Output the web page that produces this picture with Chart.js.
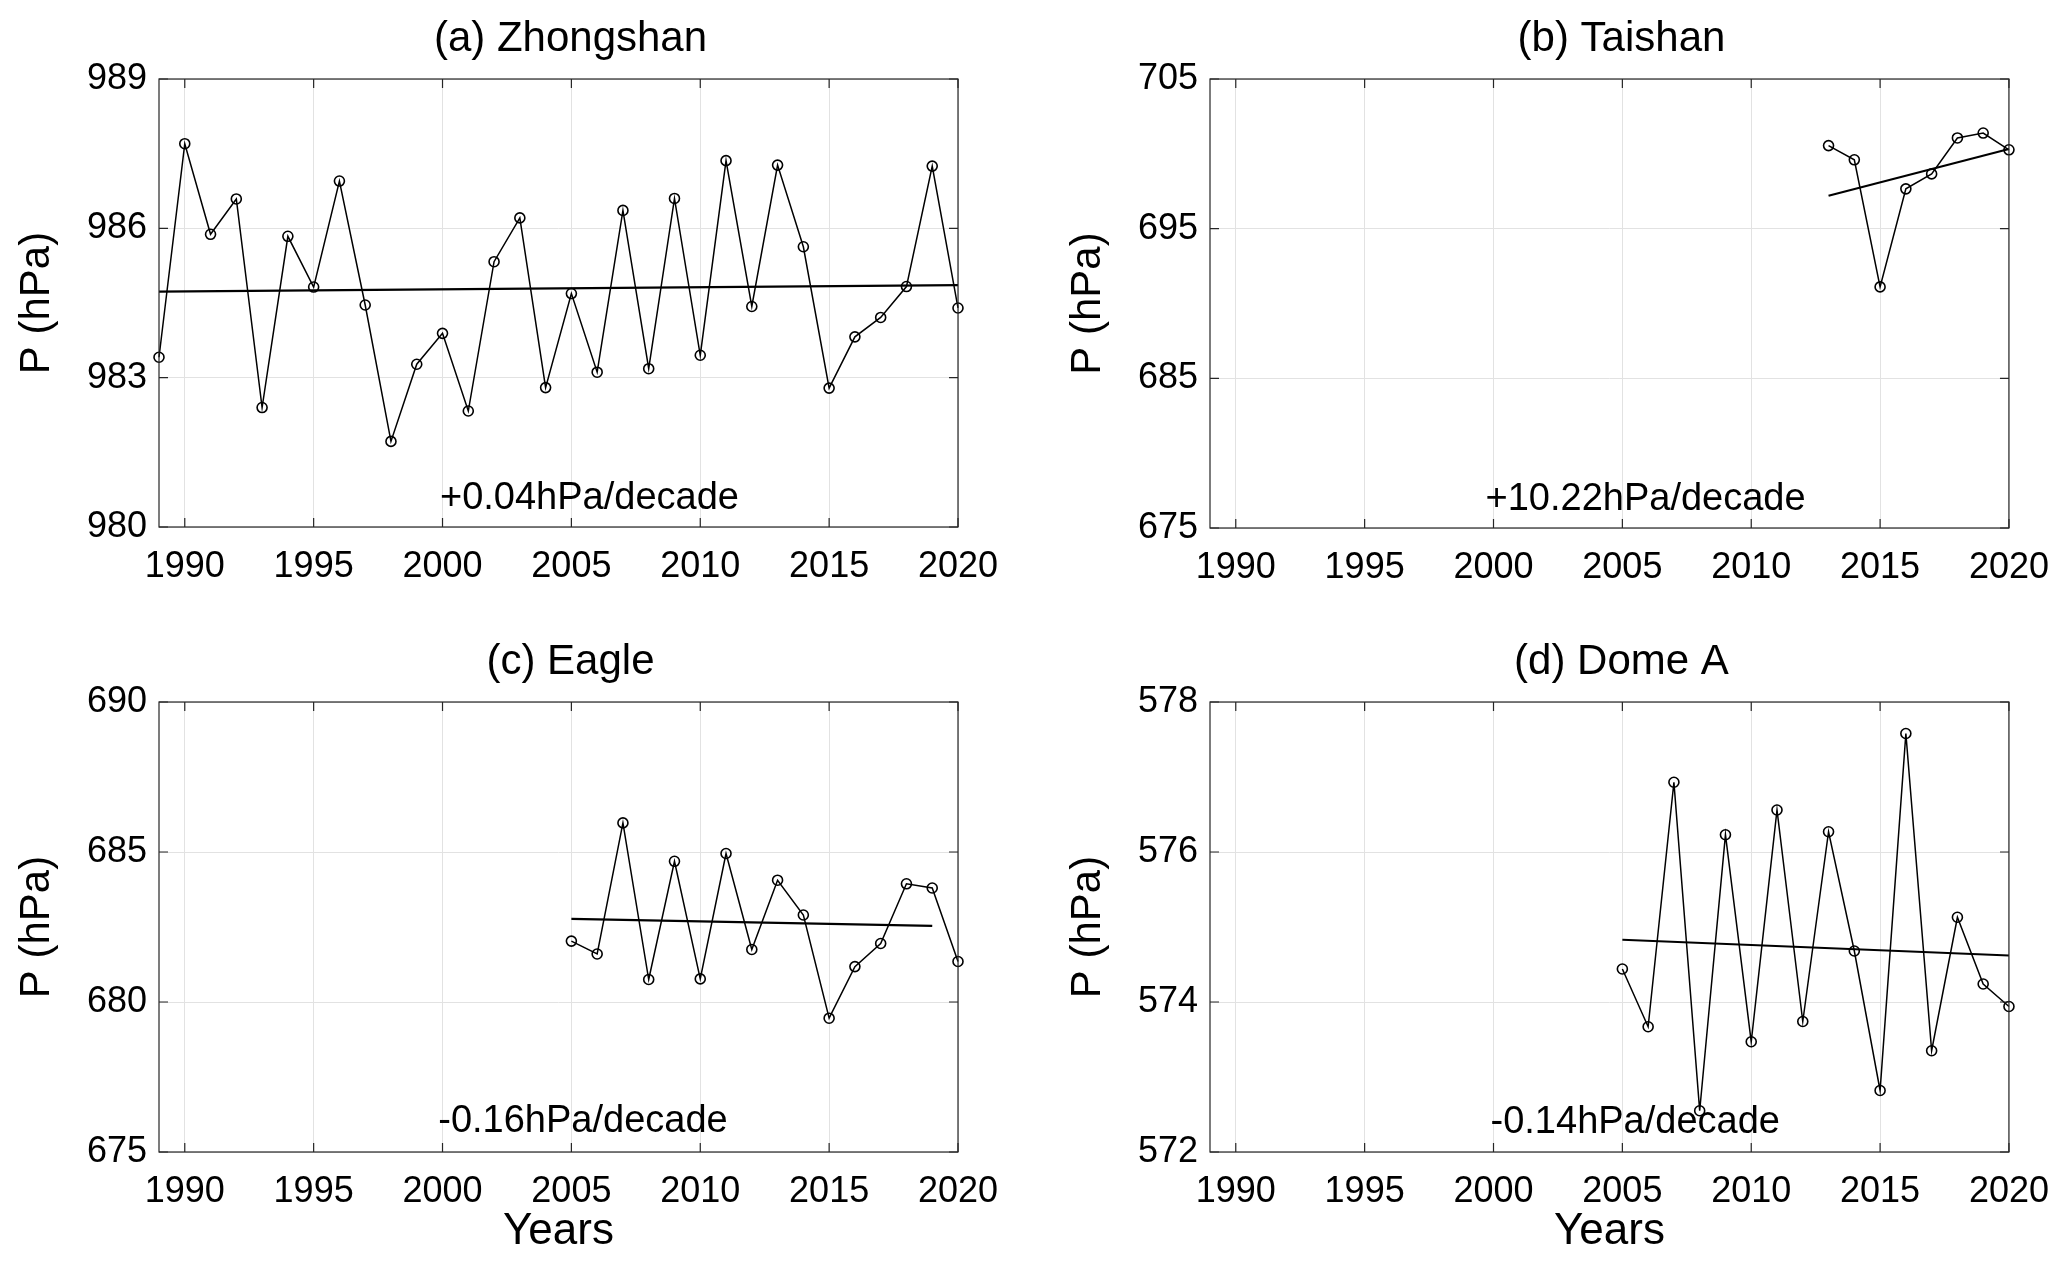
<!DOCTYPE html>
<html>
<head>
<meta charset="utf-8">
<script src="https://cdn.jsdelivr.net/npm/chart.js@4.4.0/dist/chart.umd.min.js"></script>
<style>
  body { margin: 0; background: #fff; width: 2067px; height: 1263px; position: relative; overflow: hidden; }
  canvas { position: absolute; }
</style>
</head>
<body>
<canvas id="cA" width="1033" height="620" style="left:0;top:0"></canvas>
<canvas id="cB" width="1034" height="620" style="left:1033px;top:0"></canvas>
<canvas id="cC" width="1033" height="643" style="left:0;top:620px"></canvas>
<canvas id="cD" width="1034" height="643" style="left:1033px;top:620px"></canvas>
<script>
// annual mean surface pressure (hPa)
const yearsA = [1989, 1990, 1991, 1992, 1993, 1994, 1995, 1996, 1997, 1998, 1999, 2000, 2001, 2002, 2003, 2004,
                2005, 2006, 2007, 2008, 2009, 2010, 2011, 2012, 2013, 2014, 2015, 2016, 2017, 2018, 2019, 2020];
const presA = [983.41, 987.70, 985.88, 986.59, 982.40, 985.84, 984.82, 986.95, 984.46, 981.72, 983.27, 983.89, 982.33, 985.33, 986.21, 982.80,
               984.69, 983.11, 986.36, 983.18, 986.60, 983.45, 987.36, 984.43, 987.27, 985.63, 982.79, 983.82, 984.21, 984.83, 987.25, 984.40];
const yearsB = [2013, 2014, 2015, 2016, 2017, 2018, 2019, 2020];
const presB = [700.55, 699.60, 691.11, 697.66, 698.66, 701.06, 701.39, 700.27];
const yearsC = [2005, 2006, 2007, 2008, 2009, 2010, 2011, 2012, 2013, 2014, 2015, 2016, 2017, 2018, 2019, 2020];
const presC = [682.03, 681.60, 685.97, 680.75, 684.69, 680.77, 684.95, 681.75, 684.06, 682.90, 679.46, 681.18, 681.95, 683.94, 683.80, 681.35];
const yearsD = [2005, 2006, 2007, 2008, 2009, 2010, 2011, 2012, 2013, 2014, 2015, 2016, 2017, 2018, 2019, 2020];
const presD = [574.44, 573.67, 576.93, 572.55, 576.23, 573.47, 576.56, 573.74, 576.27, 574.68, 572.82, 577.58, 573.35, 575.13, 574.24, 573.94];

// linear trend end points
const trendYearsA = [1989, 2020], trendA = [984.73, 984.86];
const trendYearsB = [2013, 2020], trendB = [697.20, 700.32];
const trendYearsC = [2005, 2019], trendC = [682.77, 682.54];
const trendYearsD = [2005, 2020], trendD = [574.83, 574.62];

// axes
const xTicks = [1990, 1995, 2000, 2005, 2010, 2015, 2020];
const yTicksA = [980, 983, 986, 989];
const yTicksB = [675, 685, 695, 705];
const yTicksC = [675, 680, 685, 690];
const yTicksD = [572, 574, 576, 578];

const titles = ['(a) Zhongshan', '(b) Taishan', '(c) Eagle', '(d) Dome A'];
const trendLabels = ['+0.04hPa/decade', '+10.22hPa/decade', '-0.16hPa/decade', '-0.14hPa/decade'];

const FONT = "'Liberation Sans', Arial, Helvetica, sans-serif";
Chart.defaults.font.family = FONT;
const BOX = '#262626';
const GRID = '#e2e2e2';

// layout of each panel: canvas origin/size and plot rectangle (page px)
const panels = [
  { id: 'cA', x0: 0, y0: 0, w: 1033, h: 620, L: 159, T: 79, R: 958, B: 527,
    years: yearsA, pres: presA, ty: trendYearsA, tv: trendA, yTicks: yTicksA, label: [2005.7, 980.57], xTitle: false },
  { id: 'cB', x0: 1033, y0: 0, w: 1034, h: 620, L: 1210, T: 79, R: 2009, B: 528,
    years: yearsB, pres: presB, ty: trendYearsB, tv: trendB, yTicks: yTicksB, label: [2005.9, 676.9], xTitle: false },
  { id: 'cC', x0: 0, y0: 620, w: 1033, h: 643, L: 159, T: 702, R: 958, B: 1152,
    years: yearsC, pres: presC, ty: trendYearsC, tv: trendC, yTicks: yTicksC, label: [2005.45, 676.0], xTitle: true },
  { id: 'cD', x0: 1033, y0: 620, w: 1034, h: 643, L: 1210, T: 702, R: 2009, B: 1152,
    years: yearsD, pres: presD, ty: trendYearsD, tv: trendD, yTicks: yTicksD, label: [2005.5, 572.39], xTitle: true }
];

// box, inward ticks and texts, MATLAB style
const decor = {
  id: 'decor',
  afterDraw(chart, args, opts) {
    const ctx = chart.ctx, a = chart.chartArea;
    const xs = chart.scales.x, ys = chart.scales.y;
    ctx.save();
    ctx.strokeStyle = BOX;
    ctx.lineWidth = 1.2;
    ctx.strokeRect(a.left, a.top, a.right - a.left, a.bottom - a.top);
    ctx.beginPath();
    xTicks.forEach(v => {
      const px = xs.getPixelForValue(v);
      ctx.moveTo(px, a.top); ctx.lineTo(px, a.top + 9);
      ctx.moveTo(px, a.bottom); ctx.lineTo(px, a.bottom - 9);
    });
    opts.yTicks.forEach(v => {
      const py = ys.getPixelForValue(v);
      ctx.moveTo(a.left, py); ctx.lineTo(a.left + 9, py);
      ctx.moveTo(a.right, py); ctx.lineTo(a.right - 9, py);
    });
    ctx.stroke();

    ctx.fillStyle = '#000';
    ctx.textAlign = 'center';
    ctx.textBaseline = 'middle';
    const cx = (a.left + a.right) / 2;
    ctx.font = '42px ' + FONT;
    ctx.fillText(opts.title, cx + 12, a.top - 40);
    ctx.font = '38px ' + FONT;
    ctx.fillText(opts.trendText, xs.getPixelForValue(opts.label[0]), ys.getPixelForValue(opts.label[1]));

    ctx.font = '44px ' + FONT;
    if (opts.xTitle) ctx.fillText('Years', cx, a.bottom + 80);
    ctx.font = '42px ' + FONT;
    ctx.translate(a.left - 122, (a.top + a.bottom) / 2);
    ctx.rotate(-Math.PI / 2);
    ctx.fillText('P (hPa)', 0, 0);
    ctx.restore();
  }
};

panels.forEach((p, i) => {
  const yW = p.L - p.x0;
  const xH = p.y0 + p.h - p.B;
  new Chart(document.getElementById(p.id), {
    type: 'line',
    data: {
      datasets: [
        {
          data: p.years.map((x, k) => ({ x: x, y: p.pres[k] })),
          borderColor: '#000',
          borderWidth: 1.5,
          pointRadius: 5,
          pointBorderWidth: 1.6,
          pointBorderColor: '#000',
          pointBackgroundColor: 'rgba(0,0,0,0)',
          tension: 0,
          clip: false
        },
        {
          data: p.ty.map((x, k) => ({ x: x, y: p.tv[k] })),
          borderColor: '#000',
          borderWidth: 2.2,
          pointRadius: 0,
          clip: false
        }
      ]
    },
    options: {
      responsive: false,
      animation: false,
      devicePixelRatio: 1,
      layout: { padding: { left: 0, top: p.T - p.y0, right: p.x0 + p.w - p.R, bottom: 0 } },
      plugins: {
        legend: { display: false },
        tooltip: { enabled: false },
        decor: { title: titles[i], trendText: trendLabels[i], label: p.label, yTicks: p.yTicks, xTitle: p.xTitle }
      },
      scales: {
        x: {
          type: 'linear',
          min: 1989,
          max: 2020,
          afterBuildTicks: s => { s.ticks = xTicks.map(v => ({ value: v })); },
          afterFit: s => { s.height = xH; },
          ticks: { color: '#000', font: { size: 36 }, padding: 18, maxRotation: 0, autoSkip: false, callback: v => String(v) },
          grid: { color: GRID, lineWidth: 1, drawTicks: false },
          border: { display: false }
        },
        y: {
          type: 'linear',
          min: p.yTicks[0],
          max: p.yTicks[p.yTicks.length - 1],
          afterBuildTicks: s => { s.ticks = p.yTicks.map(v => ({ value: v })); },
          afterFit: s => { s.width = yW; },
          ticks: { color: '#000', font: { size: 36 }, padding: 12, callback: v => String(v) },
          grid: { color: GRID, lineWidth: 1, drawTicks: false },
          border: { display: false }
        }
      }
    },
    plugins: [decor]
  });
});
</script>
</body>
</html>
